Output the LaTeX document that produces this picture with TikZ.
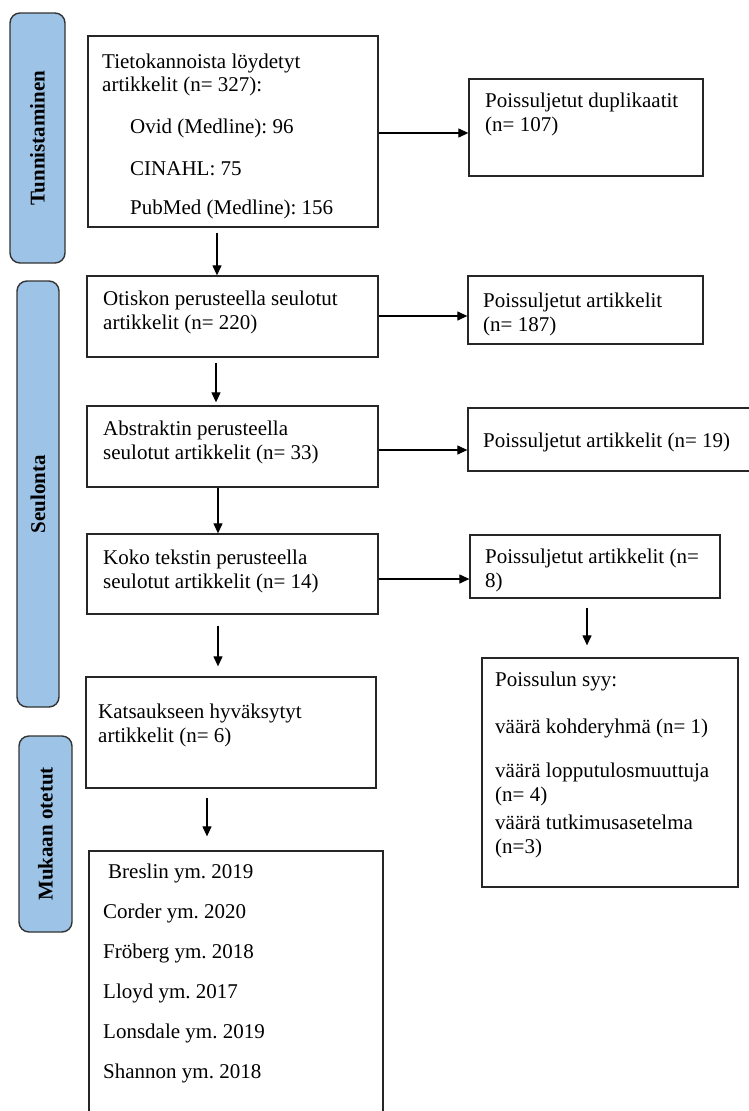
\documentclass[tikz,border=0pt]{standalone}
\usepackage{fontspec}
\setmainfont{Liberation Serif}
\usetikzlibrary{arrows.meta}
\definecolor{phaseblue}{HTML}{9DC3E6}
\newcommand\fs{\fontsize{21}{24}\selectfont}
\frenchspacing
\begin{document}
\frenchspacing
\begin{tikzpicture}[x=1pt,y=-1pt,
  box/.style={draw=black!85, line width=1.3pt, rectangle, inner sep=0pt},
  phase/.style={draw=black!80, line width=1.4pt, fill=phaseblue, rounded corners=10pt, inner sep=0pt},
  phasetxt/.style={rotate=90, font=\bfseries\fs, inner sep=0pt},
  txt/.style={anchor=base west, inner sep=0pt, font=\fs},
  arr/.style={line width=1.2pt, -{Triangle[length=10pt,width=9pt]}}]
\useasboundingbox (0,0) rectangle (749,1111);
\clip (0,0) rectangle (749,1111);

% phase labels
\node[phase, minimum width=55pt, minimum height=250pt] (L1) at (37.5,138) {};
\node[phasetxt] (L1t) at (L1.center) {Tunnistaminen};
\node[phase, minimum width=42pt, minimum height=426pt] (L2) at (38,494) {};
\node[phasetxt] (L2t) at (L2.center) {Seulonta};
\node[phase, minimum width=53pt, minimum height=196pt] (L3) at (45.5,834) {};
\node[phasetxt] (L3t) at (L3.center) {Mukaan otetut};

% main column
\node[box, minimum width=290pt, minimum height=191pt] (B1) at (233,131.5) {};
\node[box, minimum width=291pt, minimum height=81pt] (B2) at (232.5,316.5) {};
\node[box, minimum width=291pt, minimum height=81pt] (B3) at (232.5,446.5) {};
\node[box, minimum width=291pt, minimum height=80pt] (B4) at (232.5,574) {};
\node[box, minimum width=290pt, minimum height=111pt] (B5) at (231,732.5) {};
\node[box, minimum width=294pt, minimum height=274pt] (B6) at (236,988) {};

% right column
\node[box, minimum width=234pt, minimum height=97pt] (D1) at (586,127.5) {};
\node[box, minimum width=235pt, minimum height=68pt] (D2) at (585.5,310) {};
\node[box, minimum width=292pt, minimum height=63pt] (D3) at (614,439.5) {};
\node[box, minimum width=250pt, minimum height=63pt] (D4) at (595,566.5) {};
\node[box, minimum width=256pt, minimum height=229pt] (S) at (610,772.5) {};

% texts
\node[txt] (t1a) at (102,68) {Tietokannoista löydetyt};
\node[txt] (t1b) at (102,91) {artikkelit (n= 327):};
\node[txt] (t1c) at (130,133) {Ovid (Medline): 96};
\node[txt] (t1d) at (130,175) {CINAHL: 75};
\node[txt] (t1e) at (130,214) {PubMed (Medline): 156};

\node[txt] (d1a) at (485,107) {Poissuljetut duplikaatit};
\node[txt] (d1b) at (485,131) {(n= 107)};

\node[txt] (t2a) at (103,305) {Otiskon perusteella seulotut};
\node[txt] (t2b) at (103,329) {artikkelit (n= 220)};
\node[txt] (d2a) at (483,307) {Poissuljetut artikkelit};
\node[txt] (d2b) at (483,331) {(n= 187)};

\node[txt] (t3a) at (103,435) {Abstraktin perusteella};
\node[txt] (t3b) at (103,459) {seulotut artikkelit (n= 33)};
\node[txt] (d3a) at (483,447) {Poissuljetut artikkelit (n= 19)};

\node[txt] (t4a) at (103,564) {Koko tekstin perusteella};
\node[txt] (t4b) at (103,588) {seulotut artikkelit (n= 14)};
\node[txt] (d4a) at (485,563) {Poissuljetut artikkelit (n=};
\node[txt] (d4b) at (485,587) {8)};

\node[txt] (t5a) at (98,718) {Katsaukseen hyväksytyt};
\node[txt] (t5b) at (98,742) {artikkelit (n= 6)};

\node[txt] (t6a) at (108,878) {Breslin ym. 2019};
\node[txt] (t6b) at (103,918) {Corder ym. 2020};
\node[txt] (t6c) at (103,958) {Fröberg ym. 2018};
\node[txt] (t6d) at (103,998) {Lloyd ym. 2017};
\node[txt] (t6e) at (103,1038) {Lonsdale ym. 2019};
\node[txt] (t6f) at (103,1078) {Shannon ym. 2018};

\node[txt] (s1) at (495,686) {Poissulun syy:};
\node[txt] (s2) at (495,733) {väärä kohderyhmä (n= 1)};
\node[txt] (s3) at (495,777) {väärä lopputulosmuuttuja};
\node[txt] (s4) at (495,801) {(n= 4)};
\node[txt] (s5) at (495,829) {väärä tutkimusasetelma};
\node[txt] (s6) at (495,853) {(n=3)};

% vertical arrows
\draw[arr, shorten <=5pt] (B1.south -| 217,0) -- (B2.north -| 217,0);
\draw[arr, shorten <=5pt, shorten >=3pt] (B2.south -| 216,0) -- (B3.north -| 216,0);
\draw[arr] (B3.south -| 218,0) -- (B4.north -| 218,0);
\draw[arr, shorten <=11pt, shorten >=10pt] (B4.south -| 218,0) -- (B5.north -| 218,0);
\draw[arr, shorten <=9pt, shorten >=14pt] (B5.south -| 207,0) -- (B6.north -| 207,0);
\draw[arr, shorten <=9pt, shorten >=12pt] (D4.south -| 587,0) -- (S.north -| 587,0);

% horizontal arrows
\draw[arr] (B1.east |- 0,133) -- (D1.west |- 0,133);
\draw[arr] (B2.east |- 0,316) -- (D2.west |- 0,316);
\draw[arr] (B3.east |- 0,450) -- (D3.west |- 0,450);
\draw[arr] (B4.east |- 0,579) -- (D4.west |- 0,579);
\end{tikzpicture}
\end{document}
